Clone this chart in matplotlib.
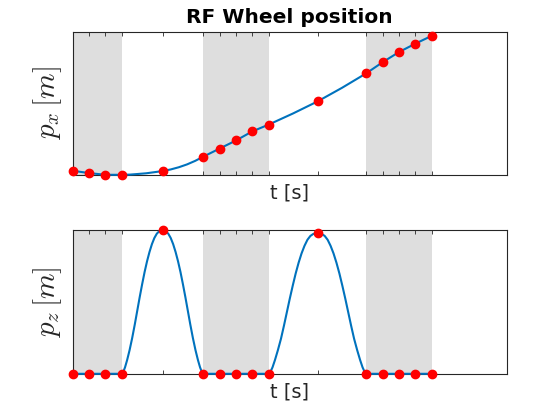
import numpy as np
import matplotlib
matplotlib.use("Agg")
import matplotlib.pyplot as plt

plt.rcParams['mathtext.fontset'] = 'cm'

# node times [s] (also used as x ticks)
t_nodes = [0.0, 0.1, 0.2, 0.3, 0.55, 0.8, 0.9, 1.0, 1.1, 1.2, 1.5, 1.8, 1.9, 2.0, 2.1, 2.2]
# stance phases (grey bands)
stance = [(0.0, 0.3), (0.8, 1.2), (1.8, 2.2)]

# p_x at the nodes
px_nodes = [0.040, 0.017, 0.000, 0.000, 0.037, 0.180, 0.260, 0.340, 0.430, 0.497,
            0.727, 1.007, 1.117, 1.217, 1.300, 1.377]
# extra curve samples read from the trajectory between nodes
px_extra_t = [0.35, 0.39, 0.45, 0.60, 0.65, 0.70, 0.75, 1.35, 1.65]
px_extra = [0.002, 0.007, 0.015, 0.053, 0.075, 0.103, 0.138, 0.608, 0.862]

# p_z at the nodes
pz_nodes = [0, 0, 0, 0, 1.0, 0, 0, 0, 0, 0, 0.98, 0, 0, 0, 0, 0]
# p_z trajectory samples
pz_curve_t = [0.0, 0.300, 0.310, 0.320, 0.333, 0.348, 0.364, 0.380, 0.395, 0.410,
              0.425, 0.440, 0.455, 0.470, 0.485, 0.500, 0.515, 0.530, 0.550,
              0.570, 0.585, 0.600, 0.615, 0.630, 0.645, 0.660, 0.675, 0.690,
              0.705, 0.720, 0.736, 0.752, 0.767, 0.780, 0.790, 0.800,
              1.200, 1.212, 1.224, 1.239, 1.257, 1.276, 1.294, 1.312, 1.330,
              1.348, 1.366, 1.384, 1.402, 1.420, 1.438, 1.456, 1.474, 1.500,
              1.526, 1.544, 1.562, 1.580, 1.598, 1.616, 1.634, 1.652, 1.670,
              1.688, 1.706, 1.724, 1.743, 1.761, 1.776, 1.788, 1.800, 2.2]
pz_curve = [0, 0.000, 0.015, 0.045, 0.096, 0.165, 0.250, 0.345, 0.440, 0.535,
            0.625, 0.710, 0.785, 0.850, 0.905, 0.948, 0.978, 0.995, 1.000,
            0.995, 0.978, 0.948, 0.905, 0.850, 0.785, 0.710, 0.625, 0.535,
            0.440, 0.345, 0.250, 0.165, 0.096, 0.045, 0.015, 0.000,
            0.000, 0.015, 0.045, 0.096, 0.165, 0.245, 0.335, 0.430, 0.525,
            0.615, 0.700, 0.775, 0.840, 0.893, 0.935, 0.962, 0.976, 0.980,
            0.976, 0.962, 0.935, 0.893, 0.840, 0.775, 0.700, 0.615, 0.525,
            0.430, 0.335, 0.245, 0.165, 0.096, 0.045, 0.015, 0.000, 0]

blue = '#0072BD'
grey = '#DEDEDE'
axcol = '#262626'

fig = plt.figure(figsize=(5.6, 4.2), dpi=100)
ax1 = fig.add_axes([0.13, 0.5838, 0.775, 0.3412])
ax2 = fig.add_axes([0.13, 0.11, 0.775, 0.3412])

px_t = np.concatenate([t_nodes, px_extra_t])
px_v = np.concatenate([px_nodes, px_extra])
order = np.argsort(px_t)

for ax in (ax1, ax2):
    for a, b in stance:
        ax.axvspan(a, b, color=grey, lw=0, zorder=0)

ax1.plot(px_t[order], px_v[order], color=blue, lw=1.5, zorder=3, clip_on=False)
ax1.plot(t_nodes, px_nodes, 'o', color='red', ms=6, zorder=4, clip_on=False)
ax1.set_ylim(0.0, 1.42)

ax2.plot(pz_curve_t, pz_curve, color=blue, lw=1.5, zorder=3, clip_on=False)
ax2.plot(t_nodes, pz_nodes, 'o', color='red', ms=6, zorder=4, clip_on=False)
ax2.set_ylim(0.0, 1.0)

for ax, lab in ((ax1, r'$p_x\,[m]$'), (ax2, r'$p_z\,[m]$')):
    ax.set_xlim(0, 2.66)
    ax.set_xticks(t_nodes)
    ax.set_xticklabels([])
    ax.set_yticks([])
    ax.tick_params(axis='x', direction='in', top=True, bottom=True, length=3,
                   width=0.6, color=axcol)
    for s in ax.spines.values():
        s.set_color(axcol)
        s.set_linewidth(0.8)
    ax.set_xlabel('t [s]', fontsize=14, color=axcol, labelpad=3)
    ax.set_ylabel(lab, fontsize=21, color=axcol, labelpad=6)

ax1.set_title('RF Wheel position', fontsize=14.5, fontweight='bold', pad=6)

fig.savefig('out.png', dpi=100)
